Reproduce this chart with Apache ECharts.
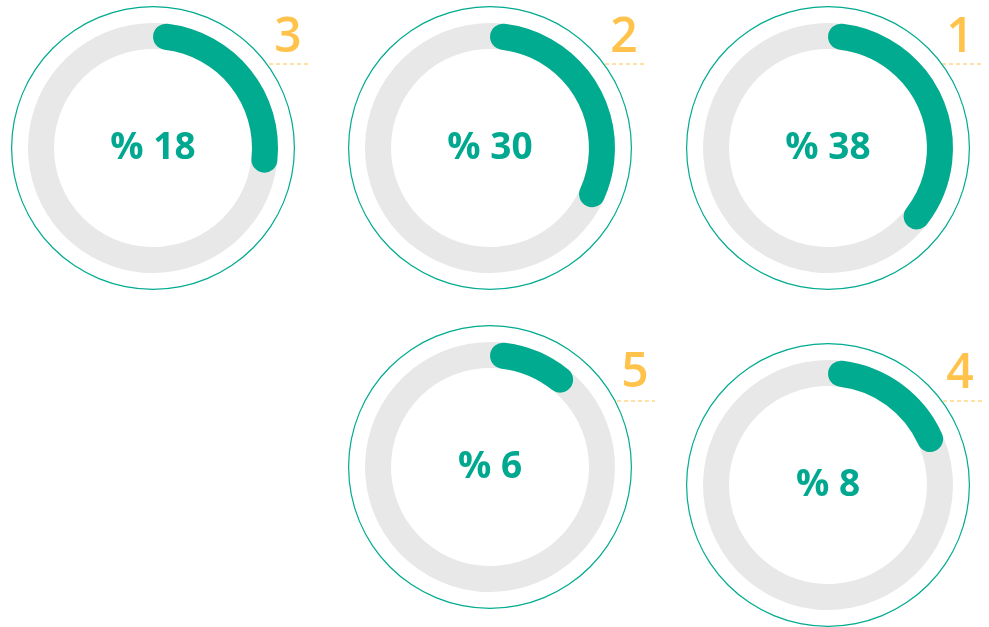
<!DOCTYPE html>
<html>
<head>
<meta charset="utf-8">
<script src="https://cdn.jsdelivr.net/npm/echarts@6/dist/echarts.min.js"></script>
<style>
  html, body { margin: 0; padding: 0; background: #fff; }
  #chart { width: 989px; height: 627px; }
</style>
</head>
<body>
<div id="chart"></div>
<script>
// shown percentages, rank badges and how far each ring is filled
const percents = [18, 30, 38, 6, 8]
const ranks = ['3', '2', '1', '5', '4']
const ringFill = [24.8, 29.9, 33.6, 8.9, 16.4]

// layout of each ring and its rank badge
const centers = [[153, 148], [490, 148], [828, 148], [490, 467], [828, 485]]
const rankPos = [[288, 38], [624, 38], [960, 38], [635, 373], [960, 374]]
const dashPos = [[269, 308, 64], [605, 645, 64], [942, 982, 64], [617, 655, 401], [943, 982, 401]]

const green = '#00ab8f'
const orange = '#ffc24a'
// round cap sticks out past the start, so turn the start a bit clockwise
const capTurn = 6.7

const chart = echarts.init(document.getElementById('chart'))

const series = []
percents.forEach((p, i) => {
  // thin outer ring
  series.push({
    type: 'gauge',
    center: centers[i],
    radius: 142,
    startAngle: 90,
    endAngle: -270,
    min: 0,
    max: 100,
    silent: true,
    axisLine: { lineStyle: { width: 1.2, color: [[1, green]] } },
    axisTick: { show: false },
    splitLine: { show: false },
    axisLabel: { show: false },
    pointer: { show: false },
    title: { show: false },
    detail: { show: false },
    data: [],
  })
  // progress ring
  series.push({
    type: 'gauge',
    center: centers[i],
    radius: 125,
    startAngle: 90 - capTurn,
    endAngle: -270 - capTurn,
    min: 0,
    max: 100,
    axisLine: { lineStyle: { width: 26, color: [[1, '#e8e8e8']] } },
    progress: { show: true, width: 26, roundCap: true, itemStyle: { color: green } },
    axisTick: { show: false },
    splitLine: { show: false },
    axisLabel: { show: false },
    pointer: { show: false },
    title: { show: false },
    detail: {
      offsetCenter: [0, 0],
      fontFamily: 'Open Sans',
      fontWeight: 'bold',
      fontSize: 37,
      color: '#00a88f',
      formatter: () => '% ' + p,
    },
    data: [{ value: ringFill[i] }],
  })
})

const graphic = []
ranks.forEach((r, i) => {
  graphic.push({
    type: 'text',
    x: rankPos[i][0],
    y: rankPos[i][1],
    style: {
      text: r,
      fill: orange,
      font: '600 48px "Open Sans"',
      align: 'center',
      verticalAlign: 'middle',
    },
  })
  graphic.push({
    type: 'line',
    shape: { x1: dashPos[i][0], y1: dashPos[i][2], x2: dashPos[i][1], y2: dashPos[i][2] },
    style: { stroke: orange, lineWidth: 1, lineDash: [4, 3] },
  })
})

chart.setOption({
  animation: false,
  series,
  graphic,
})
</script>
</body>
</html>
